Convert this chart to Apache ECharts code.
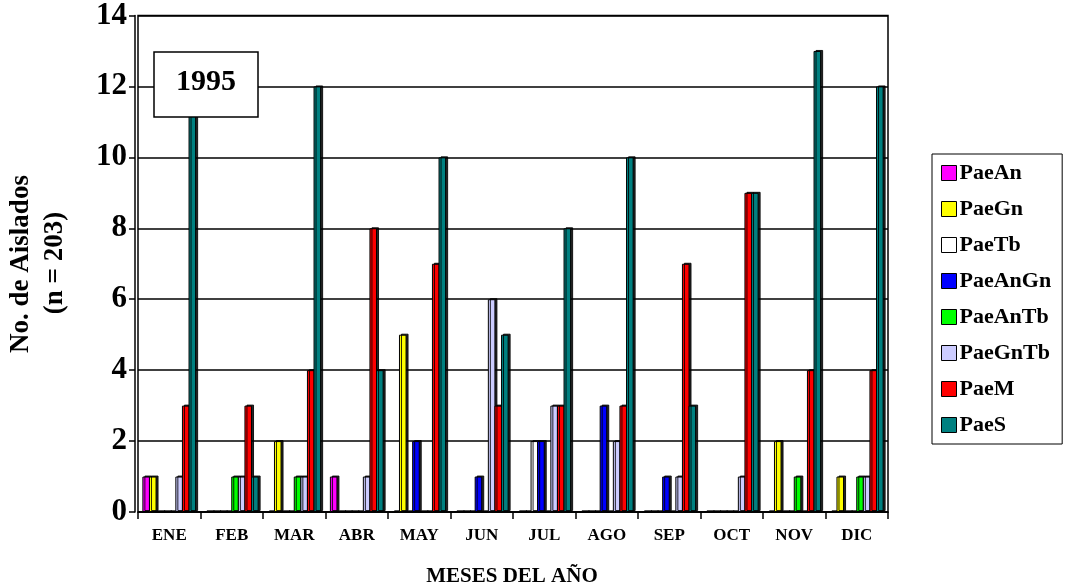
<!DOCTYPE html>
<html>
<head>
<meta charset="utf-8">
<script src="https://cdn.jsdelivr.net/npm/echarts@6/dist/echarts.min.js"></script>
<style>
  html, body { margin: 0; padding: 0; background: #fff; }
  #chart { width: 1068px; height: 588px; }
</style>
</head>
<body>
<div id="chart"></div>
<script>
// Monthly isolate counts by phenotype group, 1995
const months = ['ENE', 'FEB', 'MAR', 'ABR', 'MAY', 'JUN', 'JUL', 'AGO', 'SEP', 'OCT', 'NOV', 'DIC'];
const PaeAn   = [1, 0, 0, 1, 0, 0, 0, 0, 0, 0, 0, 0];
const PaeGn   = [1, 0, 2, 0, 5, 0, 0, 0, 0, 0, 2, 1];
const PaeTb   = [0, 0, 0, 0, 0, 0, 2, 0, 0, 0, 0, 0];
const PaeAnGn = [0, 0, 0, 0, 2, 1, 2, 3, 1, 0, 0, 0];
const PaeAnTb = [0, 1, 1, 0, 0, 0, 0, 0, 0, 0, 1, 1];
const PaeGnTb = [1, 1, 1, 1, 0, 6, 3, 2, 1, 1, 0, 1];
const PaeM    = [3, 3, 4, 8, 7, 3, 3, 3, 7, 9, 4, 4];
const PaeS    = [12, 1, 12, 4, 10, 5, 8, 10, 3, 9, 13, 12];
const yTicks  = [0, 2, 4, 6, 8, 10, 12, 14];

const groups = [
  { name: 'PaeAn',   data: PaeAn,   color: '#ff00ff' },
  { name: 'PaeGn',   data: PaeGn,   color: '#ffff00' },
  { name: 'PaeTb',   data: PaeTb,   color: '#ffffff' },
  { name: 'PaeAnGn', data: PaeAnGn, color: '#0000ff' },
  { name: 'PaeAnTb', data: PaeAnTb, color: '#00ff00' },
  { name: 'PaeGnTb', data: PaeGnTb, color: '#ccccff' },
  { name: 'PaeM',    data: PaeM,    color: '#ff0000' },
  { name: 'PaeS',    data: PaeS,    color: '#008080' }
];

const FONT = '"Liberation Serif", "Times New Roman", serif';

const chart = echarts.init(document.getElementById('chart'), null, { renderer: 'canvas' });

chart.setOption({
  backgroundColor: '#ffffff',
  animation: false,
  grid: {
    left: 138, right: 180, top: 15, bottom: 76,
    show: true, borderColor: '#000', borderWidth: 1.5, backgroundColor: 'transparent'
  },
  legend: {
    orient: 'vertical',
    left: 932, top: 154,
    padding: [8, 11, 8, 9],
    borderColor: '#000', borderWidth: 1,
    backgroundColor: '#fff',
    itemWidth: 15, itemHeight: 15,
    itemGap: 14,
    icon: 'rect',
    data: groups.map(g => ({ name: g.name, itemStyle: { borderColor: '#000', borderWidth: 1 } })),
    textStyle: { fontFamily: FONT, fontWeight: 'bold', fontSize: 22, color: '#000', padding: [0, 0, 0, -2] }
  },
  xAxis: {
    type: 'category',
    data: months,
    boundaryGap: true,
    axisLine: { show: true, lineStyle: { color: '#000', width: 1.5 } },
    axisTick: { show: true, alignWithLabel: false, length: 7, lineStyle: { color: '#000', width: 1.5 } },
    axisLabel: { fontFamily: FONT, fontWeight: 'bold', fontSize: 17, color: '#000', margin: 15 },
    splitLine: { show: false }
  },
  yAxis: {
    type: 'value',
    offset: 3,
    min: yTicks[0], max: yTicks[yTicks.length - 1], interval: 2,
    axisLine: { show: true, lineStyle: { color: '#000', width: 1.5 } },
    axisTick: { show: true, length: 6, lineStyle: { color: '#000', width: 1.5 } },
    axisLabel: { fontFamily: FONT, fontWeight: 'bold', fontSize: 31, color: '#000', margin: 8 },
    splitLine: { show: true, lineStyle: { color: '#000', width: 1.5 } }
  },
  graphic: [
    { type: 'rect', z: 100, shape: { x: 154, y: 52, width: 104, height: 65 },
      style: { fill: '#fff', stroke: '#000', lineWidth: 1.5 } },
    { type: 'text', z: 101, x: 206, y: 82,
      style: { text: '1995', font: 'bold 30px ' + FONT, fill: '#000', align: 'center', verticalAlign: 'middle' } },
    { type: 'text', z: 101, x: 512, y: 577,
      style: { text: 'MESES DEL AÑO', font: 'bold 21px ' + FONT, fill: '#000', align: 'center', verticalAlign: 'middle' } },
    { type: 'text', z: 101, x: 21, y: 264, rotation: Math.PI / 2,
      style: { text: 'No. de Aislados', font: 'bold 27px ' + FONT, fill: '#000', align: 'center', verticalAlign: 'middle' } },
    { type: 'text', z: 101, x: 55, y: 263, rotation: Math.PI / 2,
      style: { text: '(n = 203)', font: 'bold 27px ' + FONT, fill: '#000', align: 'center', verticalAlign: 'middle' } }
  ],
  series: groups.map(g => ({
    name: g.name,
    type: 'bar',
    data: g.data,
    barGap: '-13%',
    barCategoryGap: '14%',
    itemStyle: {
      color: g.color,
      borderColor: '#000',
      borderWidth: 1,
      shadowColor: 'rgba(0,0,0,0.85)',
      shadowBlur: 0,
      shadowOffsetX: 2,
      shadowOffsetY: -1
    }
  }))
});
</script>
</body>
</html>
